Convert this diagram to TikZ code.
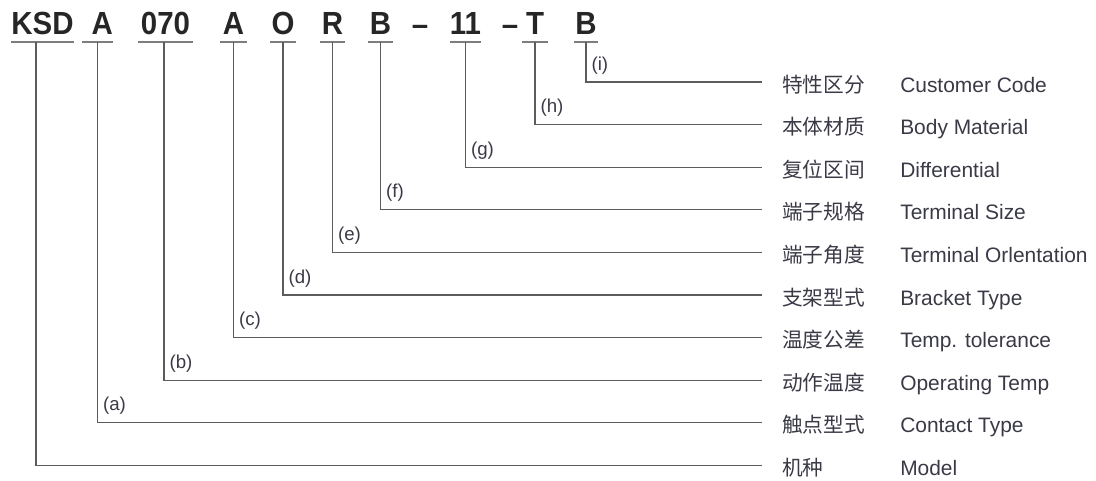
\documentclass[tikz,border=0pt]{standalone}
\usepackage{fontspec}
\setmainfont{Liberation Sans}
\newfontfamily\cjk{Noto Sans CJK SC}
\newfontfamily\kodefont[FakeStretch=0.92]{Liberation Sans}
\usepackage{xcolor}
\usetikzlibrary{positioning}

\definecolor{garis}{HTML}{5C5C5C}
\definecolor{tulisan}{HTML}{3A3A46}

\begin{document}
\begin{tikzpicture}[
    x=0.75pt, y=-0.75pt,
    kode/.style={font=\kodefont\fontsize{24}{28}\selectfont\bfseries, text=black!85,
                 anchor=south, inner xsep=0pt, inner ysep=5.6pt, text depth=0pt},
    strip/.style={font=\kodefont\fontsize{24}{28}\selectfont\bfseries, text=black!85,
                  anchor=base, inner sep=0pt},
    garisbawah/.style={draw=garis!80, line width=1.1pt},
    sambung/.style={draw=garis, line width=0.9pt},
    cn/.style={font=\cjk\fontsize{15.5}{18}\selectfont, text=tulisan, anchor=west,
               inner xsep=15pt, inner ysep=0pt, text height=16pt, text depth=1pt},
    en/.style={font=\fontsize{15.7}{18}\selectfont, text=tulisan, anchor=west,
               inner sep=0pt, text height=16pt, text depth=1pt},
    tanda/.style={font=\fontsize{14}{16}\selectfont, text=tulisan, anchor=base west, inner sep=0pt}
  ]
    \useasboundingbox (0,0) rectangle (1096,480);

    % kode model
    \node[kode, minimum width=41.25pt] (ksd) at (42.5,42) {KSD};
    \node[kode, minimum width=18.75pt] (kontak) at (97.5,42) {\hspace{7pt}A};
    \node[kode, minimum width=41.25pt] (suhu) at (165.5,42) {070};
    \node[kode, minimum width=19.5pt] (toleransi) at (233.5,42) {A};
    \node[kode, minimum width=19.5pt] (braket) at (283,42) {O};
    \node[kode, minimum width=18.75pt] (sudut) at (332.5,42) {R};
    \node[kode, minimum width=18.75pt] (ukuran) at (380.5,42) {B};
    \node[strip] (strip1) at (420,35) {–};
    \node[kode, minimum width=18.75pt] (selisih) at (465.5,42) {11};
    \node[strip] (strip2) at (510,35) {–};
    \node[kode, minimum width=19.5pt] (bahan) at (535,42) {T};
    \node[kode, minimum width=18pt] (khusus) at (586,42) {B};

    \foreach \k in {ksd, kontak, suhu, toleransi, braket, sudut, ukuran, selisih, bahan, khusus}
      \draw[garisbawah] (\k.south west) -- (\k.south east);

    % keterangan kanan
    \node[cn] (cn-khusus) at (762,82) {特性区分};
    \node[cn] (cn-bahan) at (762,124.6) {本体材质};
    \node[cn] (cn-selisih) at (762,167.2) {复位区间};
    \node[cn] (cn-ukuran) at (762,209.8) {端子规格};
    \node[cn] (cn-sudut) at (762,252.4) {端子角度};
    \node[cn] (cn-braket) at (762,295) {支架型式};
    \node[cn] (cn-toleransi) at (762,337.6) {温度公差};
    \node[cn] (cn-suhu) at (762,380.2) {动作温度};
    \node[cn] (cn-kontak) at (762,422.8) {触点型式};
    \node[cn] (cn-ksd) at (762,465.4) {机种};

    \node[en] (en-khusus) at (900,82) {Customer Code};
    \node[en] (en-bahan) at (900,124.6) {Body Material};
    \node[en] (en-selisih) at (900,167.2) {Differential};
    \node[en] (en-ukuran) at (900,209.8) {Terminal Size};
    \node[en] (en-sudut) at (900,252.4) {Terminal Orlentation};
    \node[en] (en-braket) at (900,295) {Bracket Type};
    \node[en] (en-toleransi) at (900,337.6) {Temp. tolerance};
    \node[en] (en-suhu) at (900,380.2) {Operating Temp};
    \node[en] (en-kontak) at (900,422.8) {Contact Type};
    \node[en] (en-ksd) at (900,465.4) {Model};

    % garis penghubung
    \draw[sambung] (ksd.south) ++(-6.5,0) |- (cn-ksd.west);
    \draw[sambung] (kontak.south) |- (cn-kontak.west);
    \draw[sambung] (suhu.south) ++(-1.5,0) |- (cn-suhu.west);
    \draw[sambung] (toleransi.south) |- (cn-toleransi.west);
    \draw[sambung] (braket.south) |- (cn-braket.west);
    \draw[sambung] (sudut.south) |- (cn-sudut.west);
    \draw[sambung] (ukuran.south) |- (cn-ukuran.west);
    \draw[sambung] (selisih.south) |- (cn-selisih.west);
    \draw[sambung] (bahan.south) |- (cn-bahan.west);
    \draw[sambung] (khusus.south) |- (cn-khusus.west);

    % huruf penanda
    \coordinate (sd-a) at (kontak.south |- cn-kontak.west);
    \coordinate (sd-b) at ([xshift=-1.125pt]suhu.south |- cn-suhu.west);
    \coordinate (sd-c) at (toleransi.south |- cn-toleransi.west);
    \coordinate (sd-d) at (braket.south |- cn-braket.west);
    \coordinate (sd-e) at (sudut.south |- cn-sudut.west);
    \coordinate (sd-f) at (ukuran.south |- cn-ukuran.west);
    \coordinate (sd-g) at (selisih.south |- cn-selisih.west);
    \coordinate (sd-h) at (bahan.south |- cn-bahan.west);
    \coordinate (sd-i) at (khusus.south |- cn-khusus.west);
    \node[tanda] (tn-a) at ([xshift=4pt, yshift=9pt]sd-a) {(a)};
    \node[tanda] (tn-b) at ([xshift=4pt, yshift=9pt]sd-b) {(b)};
    \node[tanda] (tn-c) at ([xshift=4pt, yshift=9pt]sd-c) {(c)};
    \node[tanda] (tn-d) at ([xshift=4pt, yshift=9pt]sd-d) {(d)};
    \node[tanda] (tn-e) at ([xshift=4pt, yshift=9pt]sd-e) {(e)};
    \node[tanda] (tn-f) at ([xshift=4pt, yshift=9pt]sd-f) {(f)};
    \node[tanda] (tn-g) at ([xshift=4pt, yshift=9pt]sd-g) {(g)};
    \node[tanda] (tn-h) at ([xshift=4pt, yshift=9pt]sd-h) {(h)};
    \node[tanda] (tn-i) at ([xshift=4pt, yshift=9pt]sd-i) {(i)};
\end{tikzpicture}
\end{document}
